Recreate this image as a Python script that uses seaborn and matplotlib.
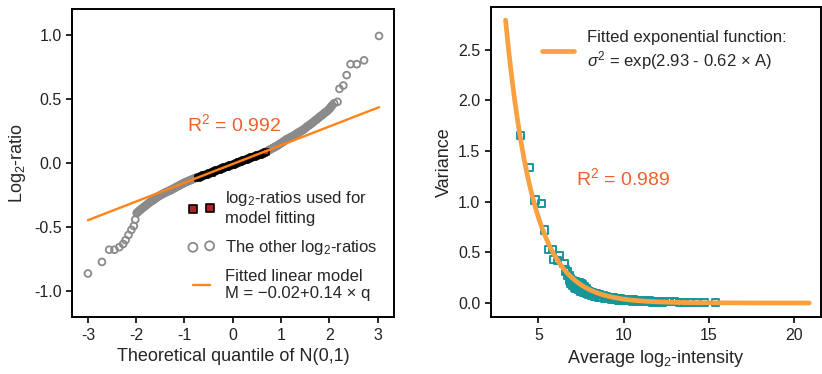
import matplotlib
matplotlib.use("Agg")
import matplotlib.pyplot as plt
import seaborn as sns
import numpy as np

# left panel: QQ plot of log2-ratios (grey = not used in the fit)
other_q = [-3.00, -2.71, -2.56, -2.45, -2.35, -2.27, -2.22, -2.16, -2.10, -2.05, -2.02, -1.99,
           -1.975, -1.95, -1.925, -1.90, -1.875, -1.85, -1.825, -1.80, -1.775, -1.75, -1.725,
           -1.70, -1.675, -1.65, -1.625, -1.60, -1.575, -1.55, -1.525, -1.50, -1.475, -1.45,
           -1.425, -1.40, -1.375, -1.35, -1.325, -1.30, -1.275, -1.25, -1.225, -1.20, -1.175,
           -1.15, -1.125, -1.10, -1.075, -1.05, -1.025, -1.00, -0.975, -0.95, -0.925, -0.90,
           -0.875, -0.85, -0.825, -0.80, -0.775, -0.75,
           0.72, 0.745, 0.77, 0.795, 0.82, 0.845, 0.87, 0.895, 0.92, 0.945, 0.97, 0.995, 1.02,
           1.045, 1.07, 1.095, 1.12, 1.145, 1.17, 1.195, 1.22, 1.245, 1.27, 1.295, 1.32, 1.345,
           1.37, 1.395, 1.42, 1.445, 1.47, 1.495, 1.52, 1.545, 1.57, 1.595, 1.62, 1.645, 1.67,
           1.695, 1.72, 1.745, 1.77, 1.795, 1.82, 1.845, 1.87, 1.895, 1.92, 1.945, 1.97, 1.995,
           2.02, 2.04, 2.06,
           2.10, 2.17, 2.21, 2.29, 2.36, 2.44, 2.57, 2.72, 3.03]
other_M = [-0.86, -0.77, -0.675, -0.675, -0.655, -0.63, -0.60, -0.56, -0.52, -0.49, -0.44, -0.39,
           -0.385, -0.375, -0.368, -0.360, -0.352, -0.345, -0.338, -0.330, -0.322, -0.315, -0.308,
           -0.300, -0.295, -0.290, -0.282, -0.275, -0.268, -0.262, -0.256, -0.250, -0.245, -0.240,
           -0.235, -0.230, -0.226, -0.222, -0.217, -0.213, -0.208, -0.203, -0.198, -0.193, -0.188,
           -0.183, -0.178, -0.173, -0.168, -0.163, -0.158, -0.153, -0.149, -0.145, -0.141, -0.137,
           -0.133, -0.129, -0.125, -0.121, -0.117, -0.113,
           0.095, 0.100, 0.105, 0.110, 0.115, 0.120, 0.125, 0.130, 0.135, 0.141, 0.148, 0.154,
           0.160, 0.166, 0.172, 0.179, 0.185, 0.190, 0.195, 0.200, 0.205, 0.210, 0.215, 0.221,
           0.227, 0.234, 0.240, 0.245, 0.250, 0.256, 0.262, 0.270, 0.277, 0.285, 0.292, 0.298,
           0.305, 0.312, 0.320, 0.328, 0.335, 0.342, 0.350, 0.358, 0.365, 0.372, 0.380, 0.388,
           0.395, 0.402, 0.410, 0.420, 0.430, 0.440, 0.450,
           0.466, 0.477, 0.578, 0.604, 0.685, 0.77, 0.77, 0.80, 0.99]

# black/red points used for the linear fit
fit_q = [-0.72, -0.68, -0.64, -0.60, -0.56, -0.52, -0.48, -0.44, -0.40, -0.36, -0.32, -0.28,
         -0.24, -0.20, -0.16, -0.12, -0.08, -0.04, 0.00, 0.04, 0.08, 0.12, 0.16, 0.20, 0.24,
         0.28, 0.32, 0.36, 0.40, 0.44, 0.48, 0.52, 0.56, 0.60, 0.64, 0.68]
fit_M = [-0.113, -0.107, -0.102, -0.096, -0.090, -0.085, -0.079, -0.074, -0.068, -0.062, -0.057,
         -0.051, -0.046, -0.040, -0.034, -0.029, -0.023, -0.018, -0.012, -0.006, -0.001, 0.005,
         0.010, 0.016, 0.022, 0.027, 0.033, 0.038, 0.044, 0.050, 0.055, 0.061, 0.066, 0.072,
         0.078, 0.083]

line_q = [-3.0, 3.03]
line_M = [-0.445, 0.435]

# right panel: variance vs average log2-intensity
avg_A = [3.96, 4.45, 4.80, 5.18, 5.37, 5.59, 5.82, 5.88, 6.10, 6.25, 6.50, 6.62,
         6.70, 6.80, 6.90, 7.00, 7.10, 7.20, 7.30, 7.40, 7.50, 7.60, 7.70, 7.80, 7.90, 8.00,
         8.20, 8.40, 8.60, 8.80, 9.00, 9.20, 9.40, 9.60, 9.80, 10.00, 10.30, 10.60, 10.90,
         11.20, 11.50, 11.80, 12.10, 12.40,
         6.60, 6.70, 6.80, 6.90, 7.00, 7.10, 7.20, 7.35, 7.50, 7.65, 7.80, 7.95, 8.10, 8.30,
         8.50, 8.70, 8.90, 9.10, 9.30, 9.50, 9.70, 9.90, 10.20, 10.50, 10.80, 11.10, 11.40,
         11.70, 12.00, 12.30,
         12.70, 13.00, 13.30, 13.60, 13.90, 14.27, 14.76, 15.40]
variance = [1.65, 1.335, 1.016, 0.983, 0.72, 0.528, 0.528, 0.43, 0.42, 0.47, 0.39, 0.307,
            0.31, 0.27, 0.245, 0.225, 0.215, 0.21, 0.205, 0.20, 0.195, 0.18, 0.16, 0.14, 0.125,
            0.115, 0.105, 0.095, 0.085, 0.075, 0.065, 0.058, 0.05, 0.045, 0.042, 0.038, 0.034,
            0.03, 0.027, 0.024, 0.021, 0.018, 0.016, 0.014,
            0.33, 0.27, 0.22, 0.19, 0.17, 0.155, 0.145, 0.13, 0.115, 0.10, 0.09, 0.08, 0.07,
            0.063, 0.057, 0.05, 0.045, 0.04, 0.035, 0.03, 0.027, 0.024, 0.02, 0.017, 0.014,
            0.012, 0.01, 0.008, 0.007, 0.006,
            0.010, 0.010, 0.009, 0.009, 0.009, 0.008, 0.008, 0.008]

# fitted model from the legend: sigma^2 = exp(2.93 - 0.62 * A)
exp_a, exp_b = 2.93, 0.62
curve_range = (3.07, 20.9)

sns.set_style("ticks")
plt.rcParams['font.family'] = ['Liberation Sans', 'DejaVu Sans']
plt.rcParams['mathtext.fontset'] = 'custom'
plt.rcParams['mathtext.rm'] = 'Liberation Sans'
plt.rcParams['mathtext.it'] = 'Liberation Sans:italic'

orange = '#ff8419'
orange2 = '#f9a040'
red_text = '#f0602a'
grey = '#8a8a8a'
teal = '#17969a'

fig = plt.figure(figsize=(8.22, 3.74), dpi=100)
ax1 = fig.add_axes([0.0876, 0.152, 0.3917, 0.824])
ax2 = fig.add_axes([0.597, 0.152, 0.402, 0.829])

# ---- left
sns.scatterplot(x=other_q, y=other_M, ax=ax1, marker='o', s=24, facecolor='none',
                edgecolor=grey, linewidth=1.3, label='The other log$_2$-ratios', zorder=2)
sns.scatterplot(x=fit_q, y=fit_M, ax=ax1, marker='s', s=16, color='#b22222',
                edgecolor='black', linewidth=1.2, label='log$_2$-ratios used for\nmodel fitting',
                zorder=3)
sns.lineplot(x=line_q, y=line_M, ax=ax1, color=orange, lw=1.7,
             label='Fitted linear model\nM = \u22120.02+0.14 \u00d7 q', zorder=4)
ax1.text(-0.95, 0.30, 'R$^2$ = 0.992', color=red_text, fontsize=14, ha='left', va='center')

ax1.set_xlim(-3.33, 3.34)
ax1.set_ylim(-1.2, 1.2)
ax1.set_xticks([-3, -2, -1, 0, 1, 2, 3])
ax1.set_xticklabels(['-3', '-2', '-1', '0', '1', '2', '3'])
ax1.set_yticks([-1.0, -0.5, 0.0, 0.5, 1.0])
ax1.set_yticklabels(['-1.0', '-0.5', '0.0', '0.5', '1.0'])
ax1.set_xlabel('Theoretical quantile of N(0,1)', fontsize=13)
ax1.set_ylabel('Log$_2$-ratio', fontsize=13)

h, l = ax1.get_legend_handles_labels()
order = [1, 0, 2]
leg1 = ax1.legend([h[i] for i in order], [l[i] for i in order], loc='upper left',
                  bbox_to_anchor=(0.36, 0.415), frameon=False, fontsize=12,
                  numpoints=2, scatterpoints=2, handlelength=1.6, handletextpad=0.6,
                  labelspacing=0.72, borderpad=0, borderaxespad=0)
leg1.legend_handles[0].set_sizes([36])
leg1.legend_handles[1].set_sizes([42])

# ---- right
sns.scatterplot(x=avg_A, y=variance, ax=ax2, marker='s', s=26, facecolor='none',
                edgecolor=teal, linewidth=1.4, zorder=2)
curve_A = np.linspace(curve_range[0], curve_range[1], 300)
sns.lineplot(x=curve_A, y=np.exp(exp_a - exp_b * curve_A), ax=ax2, color=orange2, lw=3.4,
             label='Fitted exponential function:\n$\\sigma^2$ = exp(2.93 - 0.62 \u00d7 A)',
             zorder=3)
ax2.text(7.23, 1.23, 'R$^2$ = 0.989', color=red_text, fontsize=14, ha='left', va='center')

ax2.set_xlim(2.2, 21.6)
ax2.set_ylim(-0.14, 2.92)
ax2.set_xticks([5, 10, 15, 20])
ax2.set_yticks([0.0, 0.5, 1.0, 1.5, 2.0, 2.5])
ax2.set_yticklabels(['0.0', '0.5', '1.0', '1.5', '2.0', '2.5'])
ax2.set_xlabel('Average log$_2$-intensity', fontsize=13)
ax2.set_ylabel('Variance', fontsize=13)
ax2.legend(loc='upper left', bbox_to_anchor=(0.155, 0.925), frameon=False, fontsize=12,
           handlelength=1.9, handletextpad=0.8, borderpad=0, borderaxespad=0)

for ax in (ax1, ax2):
    for sp in ax.spines.values():
        sp.set_linewidth(1.4)
        sp.set_color('black')
    ax.tick_params(labelsize=11.5, width=1.2, length=4, color='black', labelcolor='#222222')

fig.savefig('out.png', dpi=100)
